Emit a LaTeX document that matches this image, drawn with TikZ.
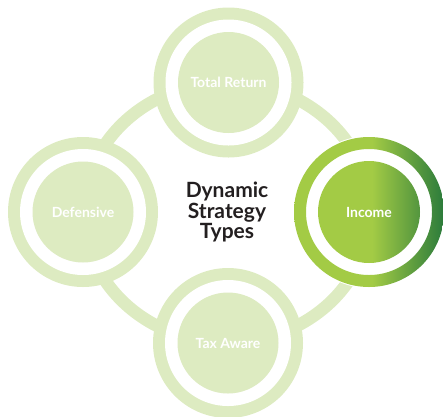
\documentclass[tikz,border=0pt]{standalone}
\usepackage{fontspec}
\setmainfont{Lato}
\definecolor{lgreen}{HTML}{DDEBC1}
\definecolor{igl}{HTML}{A3CB45}
\definecolor{igd}{HTML}{2B7B3B}
\definecolor{titlecol}{HTML}{231F20}
\pgfdeclarehorizontalshading{incgrad}{100bp}{color(0bp)=(igl); color(25bp)=(igl); color(51bp)=(igl); color(75bp)=(igd); color(100bp)=(igd)}
\begin{document}
\begin{tikzpicture}[x=1pt,y=-1pt,
  ringnode/.style={circle, inner sep=0pt, minimum size=150pt, fill=lgreen},
  gapnode/.style={circle, inner sep=0pt, minimum size=126pt, fill=white},
  corenode/.style={circle, inner sep=0pt, minimum size=101pt, fill=lgreen, text=white, font=\bfseries\fontsize{14}{16}\selectfont},
  band/.style={draw=lgreen, line width=12.5pt}]
\useasboundingbox (0,0) rectangle (443,416);
% connecting band
\coordinate (mid) at (227,212.5);
\draw[band] (mid) ellipse[x radius=143pt, y radius=130pt];
% Total Return
\node[ringnode] (trR) at (228.5,82.5) {};
\node[gapnode] (trG) at (228.5,82.5) {};
\node[corenode] (tr) at (228.5,82.5) {Total Return};
% Defensive
\node[ringnode] (dfR) at (83,212) {};
\node[gapnode] (dfG) at (83,212) {};
\node[corenode] (df) at (83,212) {Defensive};
% Tax Aware
\node[ringnode] (taR) at (228,343) {};
\node[gapnode] (taG) at (228,343) {};
\node[corenode] (ta) at (228,343) {Tax Aware};
% Income
\fill[white] (369,212) circle[radius=76pt];
\shade[shading=incgrad, even odd rule] (369,212) circle[radius=75pt] circle[radius=63pt] circle[radius=51pt];
\node[circle, inner sep=0pt, minimum size=102pt, text=white, font=\bfseries\fontsize{14}{16}\selectfont] (in) at (369,212) {Income};
% title
\node[align=center, text=titlecol, font=\bfseries\fontsize{21}{20.5}\selectfont] (title) at (227,212) {Dynamic\\Strategy\\Types};
\end{tikzpicture}
\end{document}
